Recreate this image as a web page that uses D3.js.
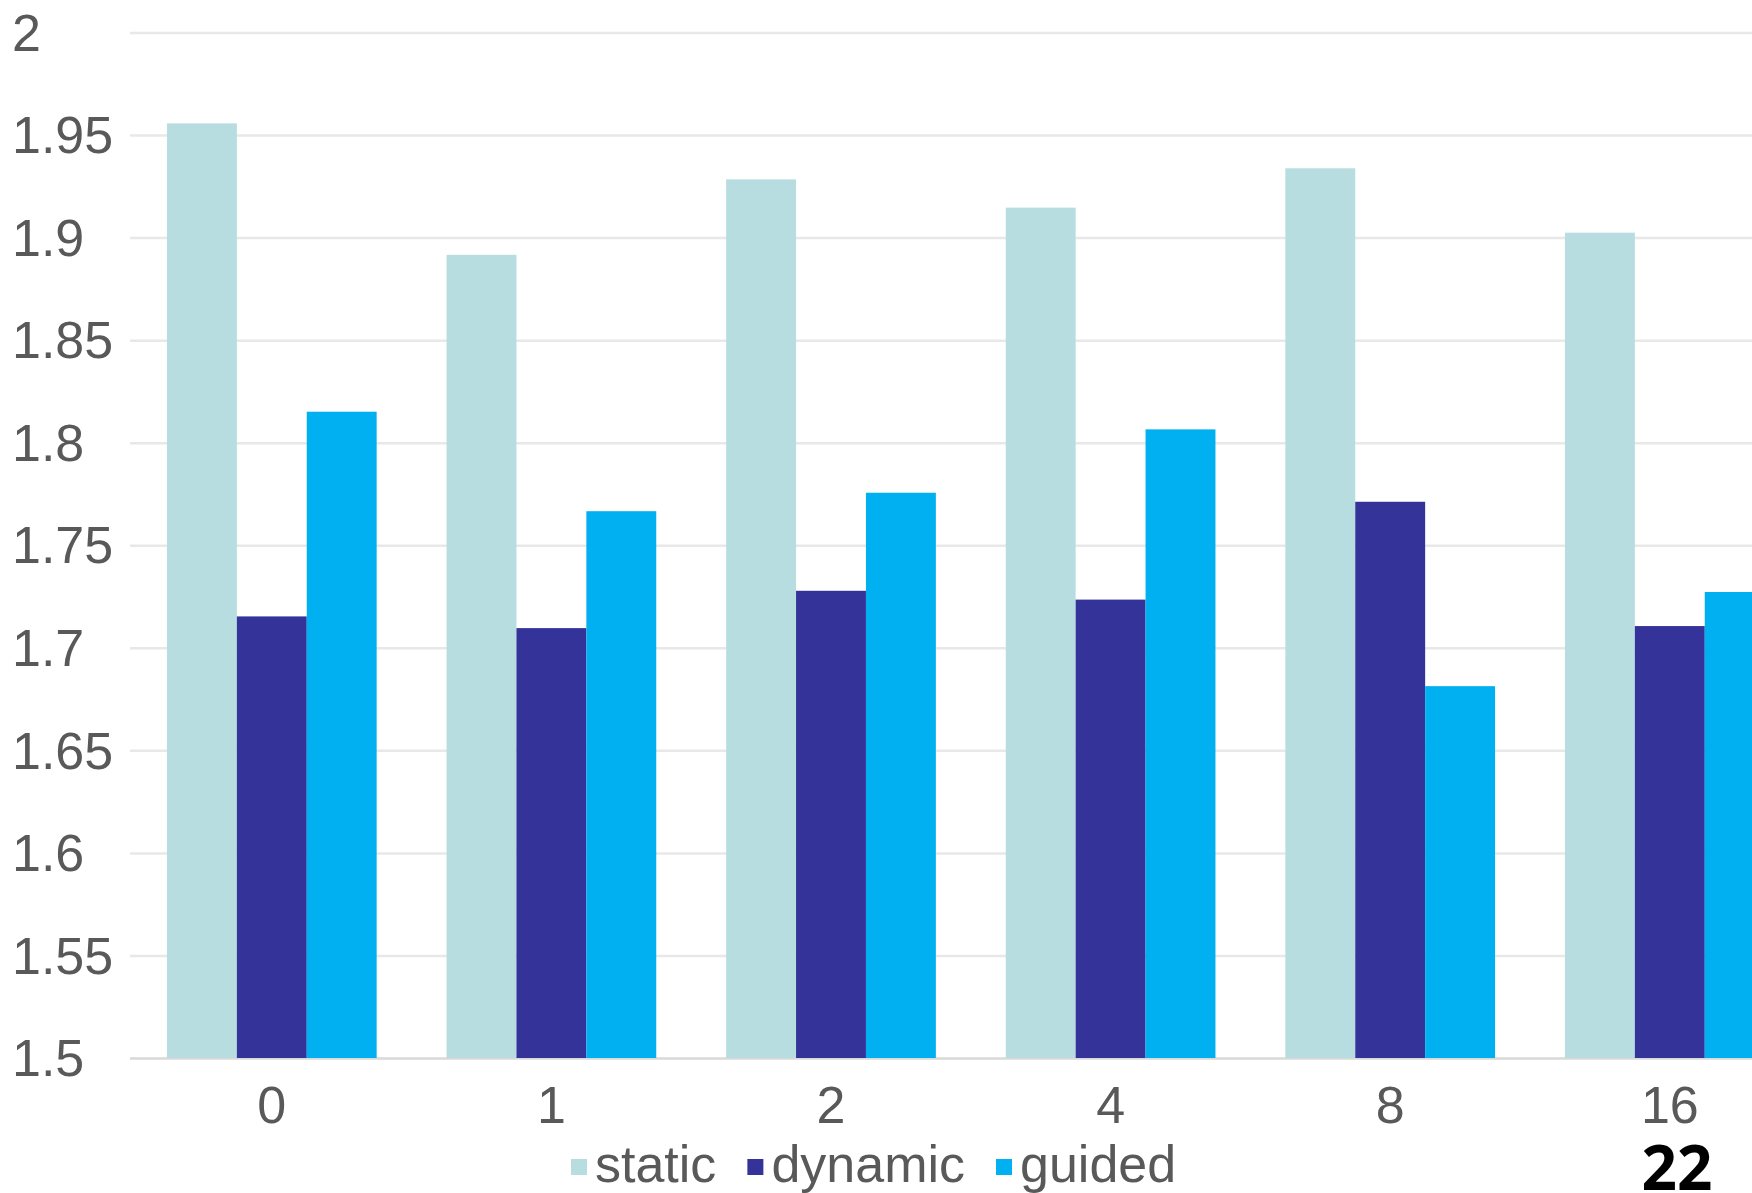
<!DOCTYPE html>
<html>
<head>
<meta charset="utf-8">
<script src="https://cdn.jsdelivr.net/npm/d3@7"></script>
<style>
  html, body { margin: 0; padding: 0; background: #fff; overflow: hidden; }
  svg { display: block; }
</style>
</head>
<body>
<svg id="chart" width="1752" height="1193"></svg>
<script>
// Chunk sizes on the x axis
const categories = ["0", "1", "2", "4", "8", "16"];
const seriesNames = ["static", "dynamic", "guided"];
const staticValues  = [1.9557, 1.8916, 1.9284, 1.9146, 1.9338, 1.9024];
const dynamicValues = [1.7153, 1.7096, 1.7278, 1.7235, 1.7712, 1.7106];
const guidedValues  = [1.8151, 1.7666, 1.7756, 1.8065, 1.6813, 1.7272];
const yTicks = [1.5, 1.55, 1.6, 1.65, 1.7, 1.75, 1.8, 1.85, 1.9, 1.95, 2];
const yTickLabels = ["1.5", "1.55", "1.6", "1.65", "1.7", "1.75", "1.8", "1.85", "1.9", "1.95", "2"];
const pageNumber = "22";

const seriesValues = [staticValues, dynamicValues, guidedValues];
const colors = ["#b7dde1", "#343399", "#00b0f0"];

const W = 1752, H = 1193;
const plotLeft = 132, plotTop = 32.5, plotBottom = 1058;
const step = 279.6;
const textFont = "'Liberation Sans', Arial, sans-serif";
const textColor = "#595959";

const svg = d3.select("#chart");

const y = d3.scaleLinear().domain([1.5, 2]).range([plotBottom, plotTop]);

const x0 = d3.scaleBand()
  .domain(categories)
  .range([plotLeft, plotLeft + step * categories.length])
  .paddingInner(0.25)
  .paddingOuter(0.125);

const x1 = d3.scaleBand()
  .domain(seriesNames)
  .range([0, x0.bandwidth()]);

// Horizontal gridlines with left-aligned value labels
const yAxis = d3.axisLeft(y)
  .tickValues(yTicks)
  .tickSize(-(W - plotLeft + 2))
  .tickFormat((d, i) => yTickLabels[i]);

const gy = svg.append("g")
  .attr("transform", `translate(${plotLeft - 2},0)`)
  .call(yAxis);
gy.select(".domain").remove();
gy.selectAll(".tick line")
  .attr("stroke", d => d === 1.5 ? "#d9d9d9" : "#e8e8e8")
  .attr("stroke-width", 2.5);
gy.selectAll(".tick text")
  .attr("x", 12 - (plotLeft - 2))
  .attr("dy", "0.34em")
  .attr("text-anchor", "start")
  .attr("font-family", textFont)
  .attr("font-size", 52)
  .attr("fill", textColor);

// Grouped bars
const groups = svg.append("g")
  .selectAll("g")
  .data(categories)
  .join("g")
  .attr("transform", d => `translate(${x0(d)},0)`);

groups.selectAll("rect")
  .data((c, ci) => seriesNames.map((s, si) => ({ series: s, value: seriesValues[si][ci], color: colors[si] })))
  .join("rect")
  .attr("x", d => x1(d.series))
  .attr("y", d => y(d.value))
  .attr("width", x1.bandwidth())
  .attr("height", d => y(1.5) - y(d.value))
  .attr("fill", d => d.color);

// Category labels
const xAxis = d3.axisBottom(x0).tickSize(0).tickPadding(0);
const gx = svg.append("g")
  .attr("transform", `translate(0,${plotBottom})`)
  .call(xAxis);
gx.select(".domain").remove();
gx.selectAll(".tick text")
  .attr("y", 65)
  .attr("dy", 0)
  .attr("font-family", textFont)
  .attr("font-size", 52)
  .attr("fill", textColor);

// Legend
const legend = svg.append("g").attr("transform", "translate(571,1182)");
let lx = 0;
seriesNames.forEach((name, i) => {
  legend.append("rect")
    .attr("x", lx)
    .attr("y", -23)
    .attr("width", 16)
    .attr("height", 16)
    .attr("fill", colors[i]);
  const t = legend.append("text")
    .attr("x", lx + 24)
    .attr("y", 0)
    .attr("font-family", textFont)
    .attr("font-size", 52)
    .attr("fill", textColor)
    .text(name);
  lx += 24 + t.node().getComputedTextLength() + 31;
});

// Page number
svg.append("text")
  .attr("x", 1677)
  .attr("y", 1190)
  .attr("text-anchor", "middle")
  .attr("font-family", "'Open Sans', 'Noto Sans', sans-serif")
  .attr("font-weight", "bold")
  .attr("font-size", 62)
  .attr("fill", "#000")
  .text(pageNumber);
</script>
</body>
</html>
